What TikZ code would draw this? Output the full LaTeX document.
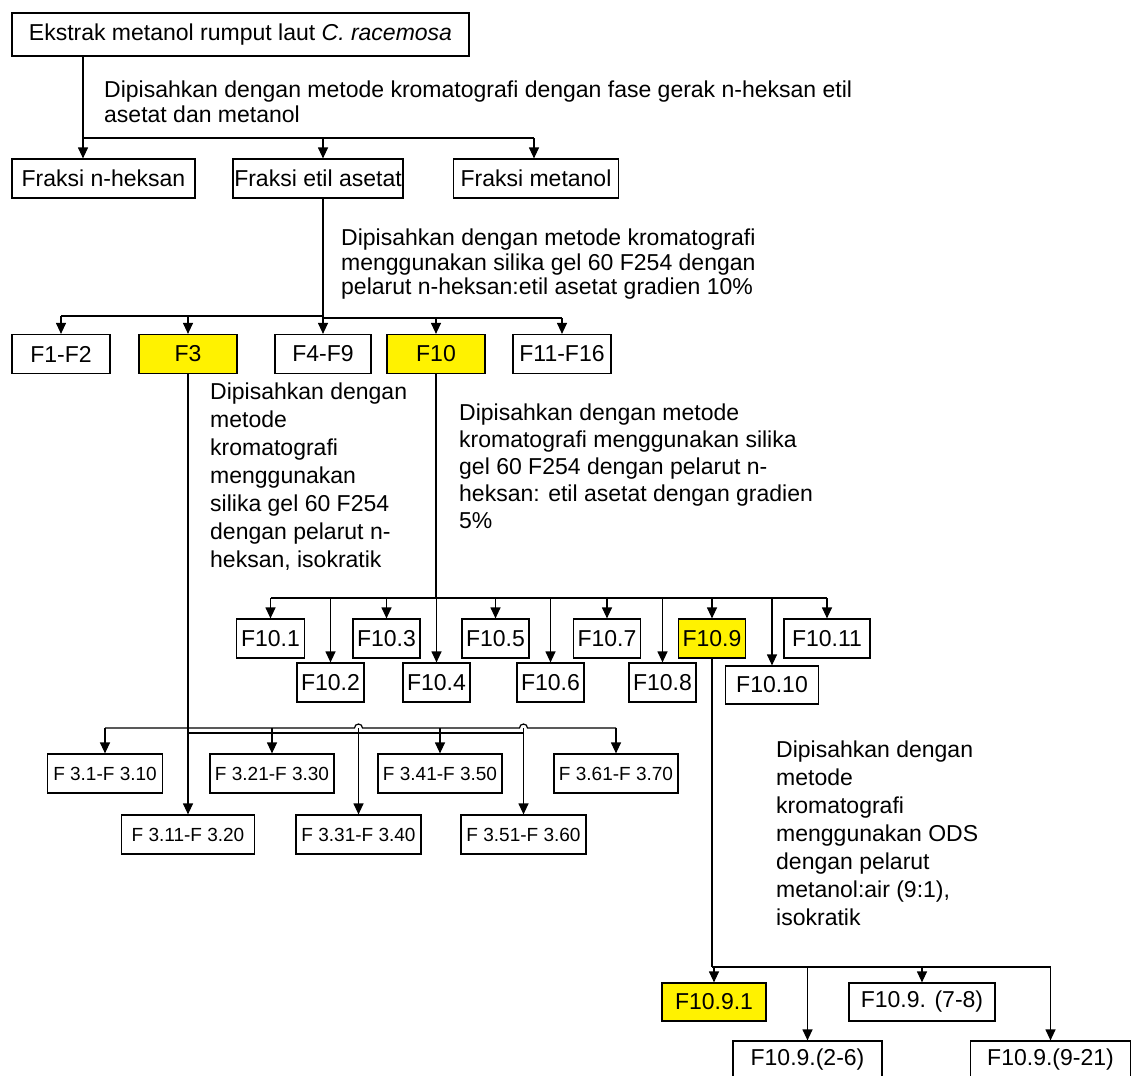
\documentclass[tikz,border=0pt]{standalone}
\usepackage{fontspec}
\setmainfont{Liberation Sans}
\usetikzlibrary{arrows.meta}
\begin{document}
\begin{tikzpicture}[x=1pt,y=-1pt,
  box/.style={draw,line width=1.2pt,minimum height=39pt,inner sep=0pt,font=\fontsize{23}{27}\selectfont,anchor=center},
  hl/.style={box,fill=yellow},
  small/.style={box,font=\fontsize{19}{22}\selectfont},
  lab/.style={anchor=north west,align=left,inner sep=0pt,font=\fontsize{23}{24.5}\selectfont},
  labw/.style={lab,font=\fontsize{23}{28}\selectfont},
  ln/.style={line width=1.2pt},
  arr/.style={ln,-{Triangle[length=11pt,width=10pt]}}]
\useasboundingbox (0,0) rectangle (1133,1076);
\clip (0,0) rectangle (1133,1076);
\fill[white] (0,0) rectangle (1133,1076);

% ---- level 0 and 1
\node[box,minimum width=457pt,minimum height=43pt] (top) at (240.5,34.5) {Ekstrak metanol rumput laut \textit{C. racemosa}};
\node[box,minimum width=183pt] (fnh) at (103.5,178.5) {Fraksi n-heksan};
\node[box,minimum width=170pt] (fea) at (318,178.5) {Fraksi etil asetat};
\node[box,minimum width=165pt] (fme) at (536,178.5) {Fraksi metanol};

% ---- level 2
\node[box,minimum width=98pt] (f12) at (61,354) {F1-F2};
\node[hl,minimum width=98pt] (f3) at (188,354) {F3};
\node[box,minimum width=96pt] (f49) at (323,354) {F4-F9};
\node[hl,minimum width=98pt] (f10) at (436,354) {F10};
\node[box,minimum width=98pt] (f1116) at (562,354) {F11-F16};

% ---- F10 children
\node[box,minimum width=68pt] (f101) at (270.5,638.5) {F10.1};
\node[box,minimum width=67pt] (f103) at (386.5,638.5) {F10.3};
\node[box,minimum width=67pt] (f105) at (495.5,638.5) {F10.5};
\node[box,minimum width=67pt] (f107) at (607,638.5) {F10.7};
\node[hl,minimum width=67pt] (f109) at (712,638.5) {F10.9};
\node[box,minimum width=86pt] (f1011) at (827,638.5) {F10.11};
\node[box,minimum width=67pt] (f102) at (330.5,682.5) {F10.2};
\node[box,minimum width=67pt] (f104) at (436.5,682.5) {F10.4};
\node[box,minimum width=67pt] (f106) at (550.5,682.5) {F10.6};
\node[box,minimum width=67pt] (f108) at (662.5,682.5) {F10.8};
\node[box,minimum width=93pt,minimum height=38pt] (f1010) at (772,685) {F10.10};

% ---- F3 children
\node[small,minimum width=115pt] (f31) at (105,773.5) {F 3.1-F 3.10};
\node[small,minimum width=124pt] (f321) at (272,773.5) {F 3.21-F 3.30};
\node[small,minimum width=124pt] (f341) at (440,773.5) {F 3.41-F 3.50};
\node[small,minimum width=124pt] (f361) at (616,773.5) {F 3.61-F 3.70};
\node[small,minimum width=133pt] (f311) at (188,834.5) {F 3.11-F 3.20};
\node[small,minimum width=125pt] (f331) at (358.5,834.5) {F 3.31-F 3.40};
\node[small,minimum width=125pt] (f351) at (523.5,834.5) {F 3.51-F 3.60};

% ---- F10.9 children
\node[hl,minimum width=104pt,minimum height=38pt] (f1091) at (714,1002) {F10.9.1};
\node[box,minimum width=146pt,minimum height=38pt] (f1097) at (922,1002) {F10.9. (7-8)};
\node[box,minimum width=149pt,minimum height=38pt] (f1092) at (807.5,1060) {F10.9.(2-6)};
\node[box,minimum width=160pt,minimum height=38pt] (f1099) at (1050.5,1060) {F10.9.(9-21)};

% ---- labels
\node[lab] (la) at (104,81) {Dipisahkan dengan metode kromatografi dengan fase gerak n-heksan etil\\asetat dan metanol};
\node[lab] (lb) at (341,229) {Dipisahkan dengan metode kromatografi\\menggunakan silika gel 60 F254 dengan\\pelarut n-heksan:etil asetat gradien 10\%};
\node[labw] (lc) at (210,383) {Dipisahkan dengan\\metode\\kromatografi\\menggunakan\\silika gel 60 F254\\dengan pelarut n-\\heksan, isokratik};
\node[lab,font=\fontsize{23}{27}\selectfont] (ld) at (459,404) {Dipisahkan dengan metode\\kromatografi menggunakan silika\\gel 60 F254 dengan pelarut n-\\heksan: etil asetat dengan gradien\\5\%};
\node[labw] (le) at (776,741) {Dipisahkan dengan\\metode\\kromatografi\\menggunakan ODS\\dengan pelarut\\metanol:air (9:1),\\isokratik};

% ---- branch 1
\coordinate (j1) at (83,138);
\coordinate (j1b) at (323,138);
\coordinate (j1e) at (534,138);
\draw[ln] (j1 |- top.south) -- (j1) -- (j1e);
\draw[arr] (j1) -- (j1 |- fnh.north);
\draw[arr] (j1b) -- (j1b |- fea.north);
\draw[arr] (j1e) -- (j1e |- fme.north);

% ---- branch 2
\coordinate (j2) at (323,316);
\coordinate (j2l) at (61,316);
\coordinate (j2a) at (188,316);
\coordinate (j2c) at (323,318);
\coordinate (j2m) at (436,318);
\coordinate (j2r) at (562,318);
\draw[ln] (j2 |- fea.south) -- (j2) -- (j2l);
\draw[ln] (j2c) -- (j2r);
\draw[arr] (j2l) -- (j2l |- f12.north);
\draw[arr] (j2a) -- (j2a |- f3.north);
\draw[arr] (j2) -- (j2 |- f49.north);
\draw[arr] (j2m) -- (j2m |- f10.north);
\draw[arr] (j2r) -- (j2r |- f1116.north);

% ---- F10 branch
\coordinate (j3) at (436,598);
\coordinate (j3l) at (270.5,598);
\coordinate (j3r) at (827,598);
\draw[ln] (f10.south) -- (j3);
\draw[ln] (j3l) -- (j3r);
\foreach \n in {f101,f102,f103,f104,f105,f106,f107,f108,f109,f1010,f1011}
  \draw[arr] (\n.north |- j3) -- (\n.north);

% ---- F3 branch
\coordinate (k) at (188,728);
\coordinate (kl) at (105,728);
\coordinate (kr) at (616,728);
\coordinate (kb) at (188,733);
\coordinate (kc) at (523.5,733);
\draw[ln] (f3.south) -- (k);
\draw[arr] (k) -- (f311.north);
\draw[ln] (kl) -- (354.5,728) arc[start angle=180,end angle=360,radius=4] -- (519.5,728) arc[start angle=180,end angle=360,radius=4] -- (kr);
\draw[ln] (kb) -- (kc);
\draw[arr] (kl) -- (f31.north);
\draw[arr] (f321.north |- k) -- (f321.north);
\draw[arr] (f341.north |- k) -- (f341.north);
\draw[arr] (kr) -- (f361.north);
\draw[arr] (f331.north |- k) -- (f331.north);
\draw[arr] (f351.north |- k) -- (f351.north);

% ---- F10.9 branch
\coordinate (m) at (712,967);
\coordinate (mr) at (1050.5,967);
\draw[line width=2.4pt] (f109.south) -- (m);
\draw[ln] (m) -- (mr);
\draw[arr] (f1091.north |- m) -- (f1091.north);
\draw[arr] (f1092.north |- m) -- (f1092.north);
\draw[arr] (f1097.north |- m) -- (f1097.north);
\draw[arr] (mr) -- (f1099.north);
\end{tikzpicture}
\end{document}
